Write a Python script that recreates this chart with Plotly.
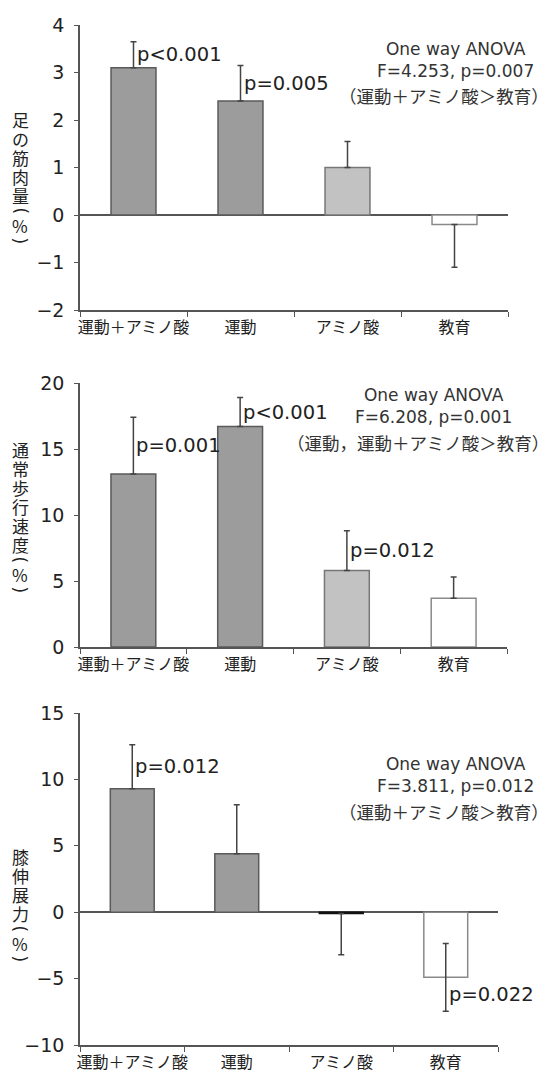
import plotly.graph_objects as go

# ---------------- data ----------------
categories = ["運動＋アミノ酸", "運動", "アミノ酸", "教育"]

muscle = [3.1, 2.4, 1.0, -0.2]
muscle_err_up = [0.55, 0.75, 0.55, 0.0]
muscle_err_down = [0.0, 0.0, 0.0, 0.9]

gait = [13.1, 16.7, 5.8, 3.7]
gait_err_up = [4.3, 2.2, 3.0, 1.6]
gait_err_down = [0.0, 0.0, 0.0, 0.0]

knee = [9.3, 4.4, -0.1, -4.9]
knee_err_up = [3.3, 3.7, 0.0, 2.55]
knee_err_down = [0.0, 0.0, 3.1, 2.55]

muscle_p = [(0, "p<0.001", "up"), (1, "p=0.005", "up")]
gait_p = [(0, "p=0.001", "up"), (1, "p<0.001", "up"), (2, "p=0.012", "up")]
knee_p = [(0, "p=0.012", "up"), (3, "p=0.022", "down")]

anova_heads = [
    "One way ANOVA<br>F=4.253, p=0.007",
    "One way ANOVA<br>F=6.208, p=0.001",
    "One way ANOVA<br>F=3.811, p=0.012",
]
anova_groups = [
    "（運動＋アミノ酸＞教育）",
    "（運動，運動＋アミノ酸＞教育）",
    "（運動＋アミノ酸＞教育）",
]
ytitles = ["足の筋肉量(%)", "通常歩行速度(%)", "膝伸展力(%)"]

# ---------------- styling ----------------
# the page body has an 8px margin, so the figure is drawn 8px in from the corner
OFF = 8
W, H = 552 - OFF, 1078 - OFF
LAT = "DejaVu Sans, Noto Sans CJK JP, sans-serif"
CJK = "Noto Sans CJK JP, sans-serif"
AX = "#555555"
TXT = "#222222"
fill_colors = ["#9c9c9c", "#9c9c9c", "#c2c2c2", "#ffffff"]
line_colors = ["#5a5a5a", "#5a5a5a", "#777777", "#8a8a8a"]
knee_line_colors = ["#5a5a5a", "#5a5a5a", "#111111", "#8a8a8a"]

def px_x(p):
    return (p - OFF) / W

def px_y(p):
    return 1 - (p - OFF) / H

panels = [
    dict(vals=muscle, up=muscle_err_up, dn=muscle_err_down, p=muscle_p,
         yr=[-2, 4], dt=1, xd=[80, 508], yd=[310, 25], zero=True,
         anova=60, title_top=110, lc=line_colors),
    dict(vals=gait, up=gait_err_up, dn=gait_err_down, p=gait_p,
         yr=[0, 20], dt=5, xd=[80, 507], yd=[647, 383], zero=False,
         anova=406, title_top=440, lc=line_colors),
    dict(vals=knee, up=knee_err_up, dn=knee_err_down, p=knee_p,
         yr=[-10, 15], dt=5, xd=[80, 498], yd=[1045, 713], zero=True,
         anova=775, title_top=847, lc=knee_line_colors),
]

fig = go.Figure()
annotations = []
layout = {}

for i, pn in enumerate(panels, start=1):
    sfx = "" if i == 1 else str(i)
    xa, ya = "x" + sfx, "y" + sfx
    fig.add_trace(go.Bar(
        x=categories, y=pn["vals"], xaxis=xa, yaxis=ya,
        marker=dict(color=fill_colors, line=dict(color=pn["lc"], width=1.5)),
        error_y=dict(type="data", symmetric=False, array=pn["up"],
                     arrayminus=pn["dn"], color="#444444", thickness=1.5, width=3),
        showlegend=False, hoverinfo="skip",
    ))
    layout["xaxis" + sfx] = dict(
        domain=[px_x(pn["xd"][0]), px_x(pn["xd"][1])], anchor=ya,
        type="category", range=[-0.5, 3.5], tickson="boundaries",
        showline=True, linecolor=AX, linewidth=1.5, ticks="outside",
        ticklen=5, tickcolor=AX, tickwidth=1.2, showgrid=False, tickangle=0,
        tickfont=dict(family=CJK, size=16, color=TXT), ticklabelstandoff=2,
        automargin=False,
    )
    layout["yaxis" + sfx] = dict(
        domain=[px_y(pn["yd"][0]), px_y(pn["yd"][1])], anchor=xa,
        range=pn["yr"], dtick=pn["dt"], tick0=0,
        showline=True, linecolor=AX, linewidth=1.5, ticks="outside",
        ticklen=4, tickcolor=AX, tickwidth=1.2, showgrid=False,
        zeroline=pn["zero"], zerolinecolor=AX, zerolinewidth=1.5,
        tickfont=dict(family=LAT, size=19, color=TXT), ticklabelstandoff=6,
        automargin=False,
    )
    # p-value labels next to the error bars
    for idx, txt, side in pn["p"]:
        v = pn["vals"][idx]
        yv = v + pn["up"][idx] / 2 if side == "up" else v - pn["dn"][idx] / 2
        annotations.append(dict(
            x=categories[idx], y=yv, xref=xa, yref=ya, text=txt,
            showarrow=False, xanchor="left", yanchor="middle", xshift=1,
            font=dict(family=LAT, size=19.5, color=TXT),
        ))
    # ANOVA text: two header lines + group comparison line
    head_y = pn["anova"]
    annotations.append(dict(
        x=px_x(455 if i != 2 else 433), y=px_y(head_y), xref="paper", yref="paper",
        text=anova_heads[i - 1], showarrow=False, xanchor="center",
        yanchor="middle", align="center",
        font=dict(family=LAT, size=17, color="#333333"),
    ))
    annotations.append(dict(
        x=px_x(551), y=px_y(head_y + 36), xref="paper", yref="paper",
        text=anova_groups[i - 1], showarrow=False, xanchor="right",
        yanchor="middle", align="center",
        font=dict(family=CJK, size=17.5, color="#333333"),
    ))
    # vertical y-axis title, one glyph at a time (parentheses turned 90°)
    ypos = pn["title_top"]
    for ch in ytitles[i - 1]:
        paren = ch in "()"
        step = 11 if paren else 19
        annotations.append(dict(
            x=px_x(20), y=px_y(ypos + step / 2), xref="paper", yref="paper",
            text=ch, showarrow=False, xanchor="center", yanchor="middle",
            textangle=90 if paren else 0,
            font=dict(family=CJK if not paren else LAT, size=17, color=TXT),
        ))
        ypos += step

fig.update_layout(
    width=W, height=H, margin=dict(l=0, r=0, t=0, b=0),
    plot_bgcolor="white", paper_bgcolor="white",
    bargap=0.58, annotations=annotations, **layout,
)

fig.write_html("out.html")
